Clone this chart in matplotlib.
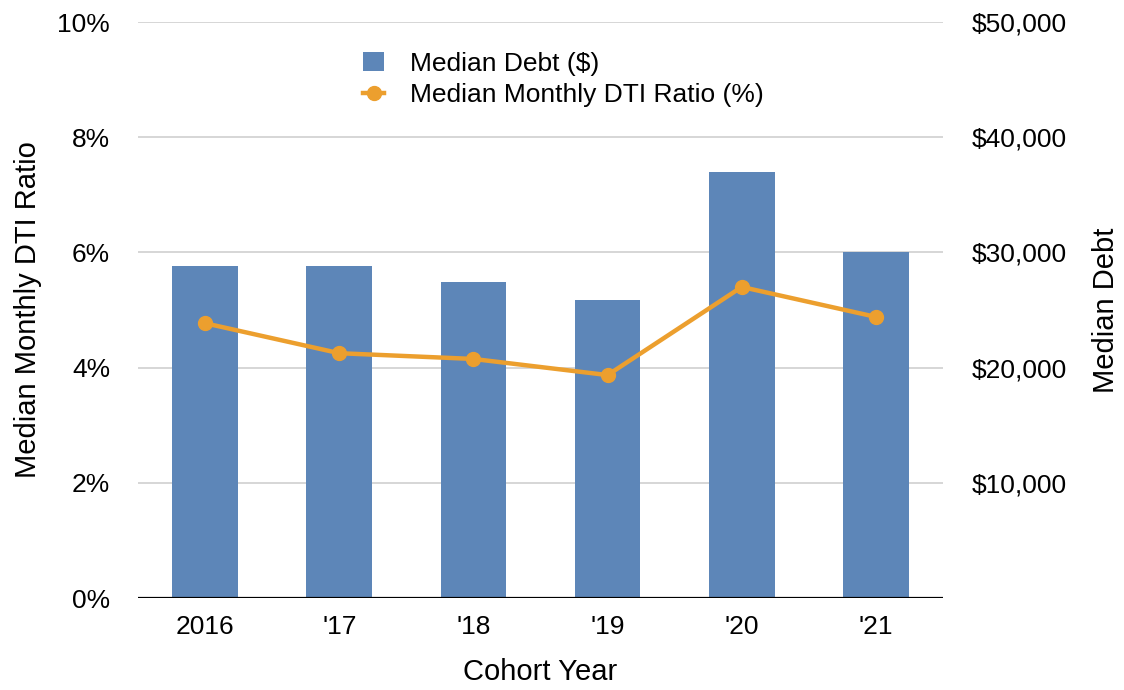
import matplotlib
matplotlib.use("Agg")
import matplotlib.pyplot as plt
from matplotlib.ticker import FuncFormatter

years = ["2016", "'17", "'18", "'19", "'20", "'21"]
median_debt = [28800, 28800, 27400, 25900, 37000, 30000]
dti_ratio = [4.77, 4.25, 4.15, 3.87, 5.40, 4.88]

bar_color = "#5D86B8"
line_color = "#EC9F2E"

plt.rcParams["font.family"] = ["Liberation Sans", "DejaVu Sans"]

fig = plt.figure(figsize=(11.24, 6.90), dpi=100)
ax = fig.add_axes([138 / 1124, 1 - 598 / 690, 805 / 1124, 576 / 690])
ax2 = ax.twinx()

x = list(range(len(years)))

# Debt bars on the right-hand axis, DTI line on the left-hand axis
bars = ax2.bar(x, median_debt, width=0.49, color=bar_color, zorder=2,
               label="Median Debt ($)")
line, = ax.plot(x, dti_ratio, color=line_color, lw=3.2, marker="o",
                markersize=10, zorder=5, label="Median Monthly DTI Ratio (%)")

ax.set_zorder(ax2.get_zorder() + 1)
ax.patch.set_visible(False)

ax.set_xlim(-0.5, len(years) - 0.5)
ax.set_ylim(0, 10)
ax2.set_ylim(0, 50000)

ax.set_yticks([0, 2, 4, 6, 8, 10])
ax.yaxis.set_major_formatter(FuncFormatter(lambda v, p: f"{v:.0f}%"))
ax2.set_yticks([10000, 20000, 30000, 40000, 50000])
ax2.yaxis.set_major_formatter(FuncFormatter(lambda v, p: f"${v:,.0f}"))

ax.set_xticks(x)
ax.set_xticklabels(years)

for a in (ax, ax2):
    for s in ("top", "left", "right", "bottom"):
        a.spines[s].set_visible(False)
    a.tick_params(length=0, labelsize=19, colors="black")

ax.tick_params(axis="y", pad=20)
ax2.tick_params(axis="y", pad=21)
ax.tick_params(axis="x", pad=12)

# horizontal gridlines drawn under the bars
for v in [2, 4, 6, 8, 10]:
    ax2.axhline(v * 5000, color="#CFCFCF", lw=1.2, zorder=0)
ax2.axhline(0, color="black", lw=1.6, zorder=3)

ax.set_xlabel("Cohort Year", fontsize=21, labelpad=14)
ax.set_ylabel("Median Monthly DTI Ratio", fontsize=21, labelpad=11)
ax2.set_ylabel("Median Debt", fontsize=21, labelpad=18)

ax.legend([bars, line], ["Median Debt ($)", "Median Monthly DTI Ratio (%)"],
          loc="upper left", bbox_to_anchor=(0.25, 0.99), frameon=False,
          fontsize=19, handlelength=0.8, handletextpad=1.0, labelspacing=0.3)

fig.savefig("out.png", dpi=100)
